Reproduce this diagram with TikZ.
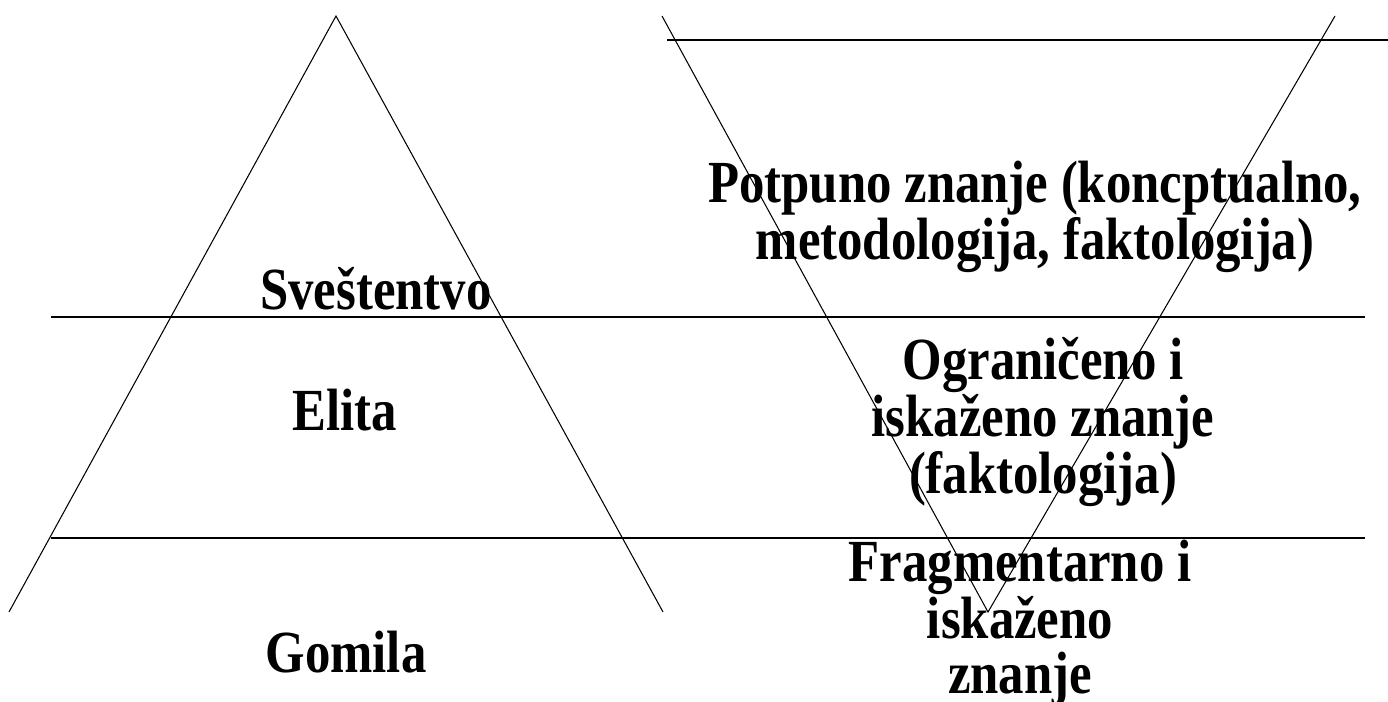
\documentclass[tikz,border=0pt]{standalone}
\usepackage{fontspec}
\setmainfont{Liberation Serif}[FakeStretch=0.85]
\begin{document}
\begin{tikzpicture}[x=0.02cm, y=-0.02cm,
  side/.style={line width=0.6pt},
  level/.style={line width=1.2pt},
  lbl/.style={font=\bfseries\fontsize{34}{31}\selectfont, align=center, inner sep=0pt}]
  \useasboundingbox (0,0) rectangle (1388,702);
  % society pyramid
  \coordinate (apexL) at (336,16);
  \coordinate (blL) at (9,612);
  \coordinate (brL) at (663,612);
  % knowledge funnel
  \coordinate (tlR) at (662,16);
  \coordinate (trR) at (1335,16);
  \coordinate (botR) at (988,612);
  % level lines
  \coordinate (topA) at (667,40);
  \coordinate (topB) at (1388,40);
  \coordinate (midA) at (51,317);
  \coordinate (midB) at (1365,317);
  \coordinate (lowA) at (51,538);
  \coordinate (lowB) at (1365,538);
  \draw[side] (blL) -- (apexL) -- (brL);
  \draw[side] (tlR) -- (botR) -- (trR);
  \draw[level] (topA) -- (topB);
  \draw[level] (midA) -- (midB);
  \draw[level] (lowA) -- (lowB);
  % labels
  \node[lbl, anchor=base] (svest) at (376,310) {Sveštentvo};
  \node[lbl, anchor=base] (elita) at (345,430) {Elita};
  \node[lbl, anchor=base] (gomila) at (346,672) {Gomila};
  \node[lbl] (potpuno) at (1035,217) {Potpuno znanje (koncptualno,\\metodologija, faktologija)};
  \node[lbl] (ogran) at (1043,422) {Ograničeno i\\iskaženo znanje\\(faktologija)};
  \node[lbl] (fragm) at (1020,623) {Fragmentarno i\\iskaženo\\znanje};
\end{tikzpicture}
\end{document}
